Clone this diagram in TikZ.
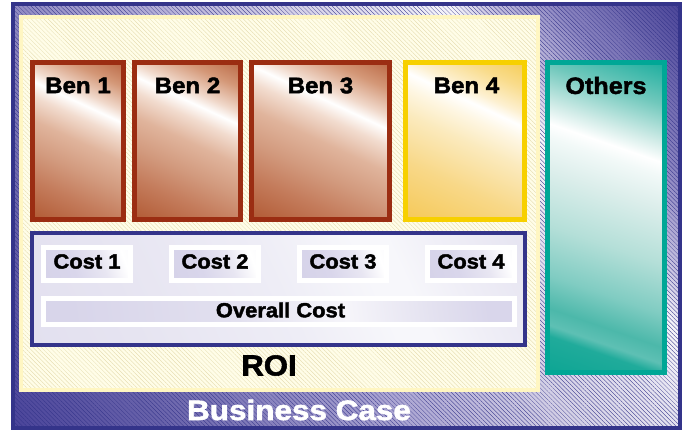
\documentclass[tikz,border=0pt]{standalone}
\usepackage{fontspec}
\newfontfamily\heavy{Liberation Sans}[BoldFeatures={FakeBold=2,FakeStretch=1.07}]
\usetikzlibrary{patterns.meta}

% ---------- colours ----------
\definecolor{framebl}{HTML}{34348A}
\definecolor{rust}{HTML}{9B2D12}
\definecolor{gold}{HTML}{F7D000}
\definecolor{teal}{HTML}{00A796}
\definecolor{roiedge}{HTML}{FFF6C2}
\definecolor{cream}{HTML}{FFFDE8}
\definecolor{roiline}{HTML}{E2D8A8}
% background purple
\definecolor{bgA}{HTML}{443E94}\definecolor{bgB}{HTML}{4A449A}\definecolor{bgC}{HTML}{6862AA}
\definecolor{bgD}{HTML}{9A94C8}\definecolor{bgE}{HTML}{ABA5D2}\definecolor{bgF}{HTML}{D4D0E6}
\definecolor{bgG}{HTML}{E6E4F1}\definecolor{bgH}{HTML}{F6F5FA}\definecolor{bgI}{HTML}{C6C1E0}
\definecolor{bgJ}{HTML}{8A84C0}\definecolor{bgK}{HTML}{4A4498}
% copper
\definecolor{cuA}{HTML}{A85030}\definecolor{cuB}{HTML}{B05832}\definecolor{cuC}{HTML}{C47C5C}
\definecolor{cuD}{HTML}{D29A7E}\definecolor{cuE}{HTML}{E0B49C}\definecolor{cuF}{HTML}{F2DCCF}
\definecolor{cuG}{HTML}{F0D8CA}\definecolor{cuH}{HTML}{D49878}\definecolor{cuI}{HTML}{B86440}
% gold
\definecolor{auA}{HTML}{F2C040}\definecolor{auB}{HTML}{F5C856}\definecolor{auC}{HTML}{F8D888}
\definecolor{auD}{HTML}{FBEABD}\definecolor{auE}{HTML}{FEF6E2}\definecolor{auF}{HTML}{FDF0D0}
\definecolor{auG}{HTML}{F9DC8C}\definecolor{auH}{HTML}{F5CB52}
% teal
\definecolor{teA}{HTML}{0CA593}\definecolor{teB}{HTML}{20AB9B}\definecolor{teC}{HTML}{5EC0B4}
\definecolor{teD}{HTML}{4CB8AA}\definecolor{teE}{HTML}{80CCC2}\definecolor{teF}{HTML}{B4DFD8}
\definecolor{teG}{HTML}{DCEEEB}\definecolor{teH}{HTML}{F2F9F8}\definecolor{teI}{HTML}{D2ECE8}
\definecolor{teJ}{HTML}{70C8BC}\definecolor{teK}{HTML}{18AD9D}
% lavender
\definecolor{lvA}{HTML}{DEDBED}\definecolor{lvB}{HTML}{E6E4F1}\definecolor{lvC}{HTML}{EEEDF6}
\definecolor{lvD}{HTML}{F7F7FB}\definecolor{lvE}{HTML}{F0EFF7}\definecolor{lvF}{HTML}{E4E2F0}
\definecolor{chA}{HTML}{D3D0E7}\definecolor{chB}{HTML}{D9D6EB}\definecolor{chC}{HTML}{E8E6F2}
\definecolor{ovA}{HTML}{D8D5EA}\definecolor{ovB}{HTML}{E2E0EF}\definecolor{ovC}{HTML}{F6F5FA}
\definecolor{ovD}{HTML}{E4E2F0}\definecolor{ovE}{HTML}{D9D6EB}

% ---------- shadings ----------
\pgfdeclarehorizontalshading{bgshade}{100bp}{color(0bp)=(bgA); color(15bp)=(bgB); color(26bp)=(bgC);
  color(39bp)=(bgD); color(44bp)=(bgE); color(56bp)=(bgF); color(64bp)=(bgG); color(68bp)=(bgH);
  color(71bp)=(bgI); color(76bp)=(bgJ); color(85bp)=(bgK); color(100bp)=(bgK)}
\pgfdeclarehorizontalshading{copper}{100bp}{color(0bp)=(cuA); color(16bp)=(cuB); color(30bp)=(cuC);
  color(40bp)=(cuD); color(50bp)=(cuE); color(58bp)=(cuF); color(63bp)=(white); color(67bp)=(cuG);
  color(75bp)=(cuH); color(84bp)=(cuI); color(100bp)=(cuI)}
\pgfdeclarehorizontalshading{golden}{100bp}{color(0bp)=(auA); color(16bp)=(auB); color(35bp)=(auC);
  color(50bp)=(auD); color(58bp)=(auE); color(63bp)=(white); color(67bp)=(auF);
  color(75bp)=(auG); color(84bp)=(auH); color(100bp)=(auH)}
\pgfdeclarehorizontalshading{tealish}{100bp}{color(0bp)=(teA); color(18bp)=(teA); color(25bp)=(teB);
  color(27bp)=(teC); color(30bp)=(teD); color(36bp)=(teE); color(45bp)=(teF); color(55bp)=(teG);
  color(61bp)=(teH); color(63.5bp)=(white); color(67bp)=(teI); color(74bp)=(teJ); color(82bp)=(teK);
  color(100bp)=(teK)}
\pgfdeclarehorizontalshading{lavpanel}{100bp}{color(0bp)=(lvA); color(30bp)=(lvB); color(50bp)=(lvC);
  color(62bp)=(lvD); color(66bp)=(lvD); color(72bp)=(lvE); color(85bp)=(lvF); color(100bp)=(lvF)}
\pgfdeclarehorizontalshading{chip}{100bp}{color(0bp)=(chA); color(40bp)=(chB); color(60bp)=(chC);
  color(75bp)=(white); color(100bp)=(lvE)}
\pgfdeclarehorizontalshading{overbar}{100bp}{color(0bp)=(ovA); color(25bp)=(ovA); color(45bp)=(ovB);
  color(58bp)=(ovC); color(68bp)=(ovD); color(75bp)=(ovE); color(100bp)=(ovE)}

\tikzset{
  hatch/.style={pattern={Lines[angle=-45,distance=3pt,line width=.3pt]}, pattern color=#1},
  box/.style={outer sep=0pt, inner sep=0pt},
  shaded/.style 2 args={preaction={shade, shading=#1, shading angle=#2}},
  benbox/.style={box, line width=5pt, draw=rust, shaded={copper}{65}},
  goldbox/.style={box, line width=5pt, draw=gold, shaded={golden}{65}},
  tealbox/.style={box, line width=5pt, draw=teal, shaded={tealish}{71}},
  chipbox/.style={box, line width=5pt, draw=white, shaded={chip}{20}},
  lab/.style={inner sep=0pt, font=\heavy\bfseries\fontsize{#1}{#1}\selectfont}
}

\begin{document}
\begin{tikzpicture}[x=1pt, y=1pt]
  \useasboundingbox[fill=white] (0,0) rectangle (685,429);

  % business case frame
  \node[box, line width=4pt, draw=framebl, shaded={bgshade}{35},
        preaction={hatch=framebl, fill opacity=.06},
        minimum width=667pt, minimum height=423.5pt] (frame) at (346.5,213.25) {};

  % ROI area
  \node[box, line width=4pt, draw=roiedge, preaction={fill=cream},
        preaction={hatch=roiline, fill opacity=.5},
        minimum width=517pt, minimum height=373pt] (roi) at (279.5,225.5) {};

  % benefit boxes
  \node[benbox, minimum width=91pt,  minimum height=157pt] (ben1) at (78,288) {};
  \node[benbox, minimum width=106pt, minimum height=157pt] (ben2) at (187.5,288) {};
  \node[benbox, minimum width=138pt, minimum height=157pt] (ben3) at (320.5,288) {};
  \node[goldbox, minimum width=119pt, minimum height=157pt] (ben4) at (465,288) {};
  \node[tealbox, minimum width=117pt, minimum height=310pt] (others) at (606,211.5) {};

  \node[lab=22.5] (tben1) at ([yshift=-23pt]ben1.north) {Ben 1};
  \node[lab=22.5] (tben2) at ([yshift=-23pt]ben2.north) {Ben 2};
  \node[lab=22.5] (tben3) at ([yshift=-23pt]ben3.north) {Ben 3};
  \node[lab=22.5] (tben4) at ([xshift=1.5pt,yshift=-23pt]ben4.north) {Ben 4};
  \node[lab=23.5] (tothers) at ([yshift=-23pt]others.north) {Others};

  % cost panel
  \node[box, line width=4pt, draw=framebl, shaded={lavpanel}{25},
        minimum width=493pt, minimum height=112pt] (costs) at (278.5,140) {};

  \node[chipbox, minimum width=87pt, minimum height=33pt] (cost1) at (87,165) {};
  \node[chipbox, minimum width=87pt, minimum height=33pt] (cost2) at (215,165) {};
  \node[chipbox, minimum width=87pt, minimum height=33pt] (cost3) at (343,165) {};
  \node[chipbox, minimum width=87pt, minimum height=33pt] (cost4) at (471,165) {};
  \node[box, line width=5pt, draw=white, shaded={overbar}{8},
        minimum width=471pt, minimum height=26pt] (overall) at (279,117.5) {};

  \node[lab=20.5] (tcost1) at ([yshift=2.5pt]cost1.center) {Cost 1};
  \node[lab=20.5] (tcost2) at ([yshift=2.5pt]cost2.center) {Cost 2};
  \node[lab=20.5] (tcost3) at ([yshift=2.5pt]cost3.center) {Cost 3};
  \node[lab=20.5] (tcost4) at ([yshift=2.5pt]cost4.center) {Cost 4};
  \node[lab=20.5] (toverall) at ([xshift=1.5pt,yshift=1.5pt]overall.center) {Overall Cost};

  % titles
  \node[lab=29] (troi) at (269,63.5) {ROI};
  \node[lab=28, text=white] (tcase) at (299,19) {\scalebox{1.05}[1]{Business Case}};
\end{tikzpicture}
\end{document}
